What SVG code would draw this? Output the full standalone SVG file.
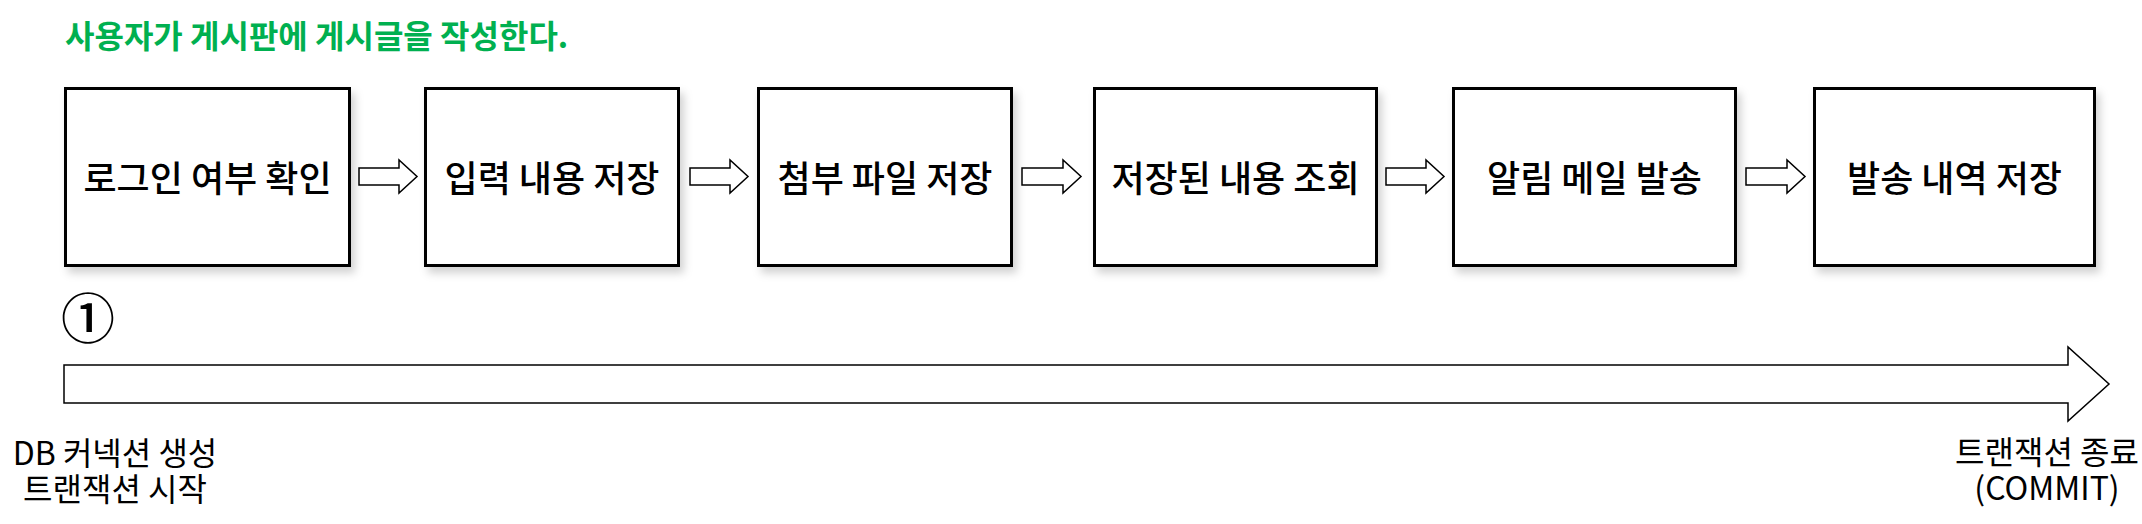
<svg xmlns="http://www.w3.org/2000/svg" width="2142" height="524" viewBox="0 0 2142 524">
<style>
.box{fill:#fff;stroke:#000;stroke-width:3;}
.bt{font-family:"Noto Sans CJK KR","Noto Sans",sans-serif;font-size:36px;font-weight:500;fill:#000;text-anchor:middle;}
.lbl{font-family:"Noto Sans CJK KR","Noto Sans",sans-serif;font-size:32px;font-weight:400;fill:#000;text-anchor:middle;}
.ttl{font-family:"Noto Sans CJK KR","Noto Sans",sans-serif;font-size:32px;font-weight:700;fill:#00b050;}
.ba{fill:#fff;stroke:#000;stroke-width:1.5;stroke-linejoin:miter;}
</style>
<defs>
<filter id="sh" x="-10%" y="-10%" width="130%" height="130%">
<feDropShadow dx="4" dy="6" stdDeviation="4" flood-color="#000" flood-opacity="0.18"/>
</filter>
</defs>
<text id="title" class="ttl" x="65" y="48">사용자가 게시판에 게시글을 작성한다.</text>
<g id="n1"><rect class="box" filter="url(#sh)" x="65.5" y="88.5" width="284" height="177"/><text class="bt" x="207.5" y="192">로그인 여부 확인</text></g>
<g id="n2"><rect class="box" filter="url(#sh)" x="425.5" y="88.5" width="253" height="177"/><text class="bt" x="552" y="192">입력 내용 저장</text></g>
<g id="n3"><rect class="box" filter="url(#sh)" x="758.5" y="88.5" width="253" height="177"/><text class="bt" x="885" y="192">첨부 파일 저장</text></g>
<g id="n4"><rect class="box" filter="url(#sh)" x="1094.5" y="88.5" width="282" height="177"/><text class="bt" x="1235.5" y="192">저장된 내용 조회</text></g>
<g id="n5"><rect class="box" filter="url(#sh)" x="1453.5" y="88.5" width="282" height="177"/><text class="bt" x="1594.5" y="192">알림 메일 발송</text></g>
<g id="n6"><rect class="box" filter="url(#sh)" x="1814.5" y="88.5" width="280" height="177"/><text class="bt" x="1954.5" y="192">발송 내역 저장</text></g>
<g id="connectors">
<polygon class="ba" points="359,168 399,168 399,160 417,176.5 399,193 399,185 359,185"/>
<polygon class="ba" points="690,168 730,168 730,160 748,176.5 730,193 730,185 690,185"/>
<polygon class="ba" points="1022,168 1063,168 1063,160 1081,176.5 1063,193 1063,185 1022,185"/>
<polygon class="ba" points="1386,168 1426,168 1426,160 1444,176.5 1426,193 1426,185 1386,185"/>
<polygon class="ba" points="1746,168 1787,168 1787,160 1805,176.5 1787,193 1787,185 1746,185"/>
<polygon class="ba" points="64,365 2068,365 2068,347 2109,384 2068,421 2068,403 64,403" stroke-width="2"/>
</g>
<text id="step1" x="88" y="339" font-family="'Noto Sans CJK KR',sans-serif" font-size="54" font-weight="500" text-anchor="middle">①</text>
<g id="startLabel"><text class="lbl" x="115" y="465">DB 커넥션 생성</text><text class="lbl" x="115" y="501">트랜잭션 시작</text></g>
<g id="endLabel"><text class="lbl" x="2047" y="464">트랜잭션 종료</text><text class="lbl" x="2047" y="500">(COMMIT)</text></g>
</svg>
